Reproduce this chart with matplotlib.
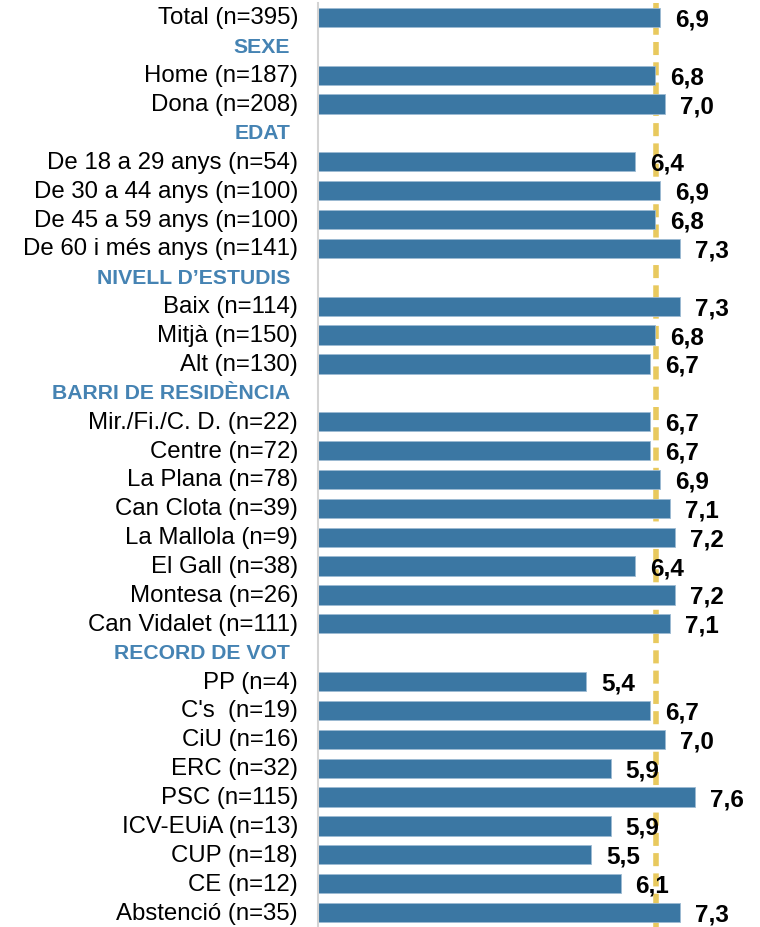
import matplotlib.pyplot as plt
from matplotlib.transforms import blended_transform_factory, offset_copy

# =========================
# Dades
# =========================
etiquetes = [
    "Total (n=395)", "SEXE", "Home (n=187)", "Dona (n=208)",
    "EDAT", "De 18 a 29 anys (n=54)", "De 30 a 44 anys (n=100)",
    "De 45 a 59 anys (n=100)", "De 60 i més anys (n=141)",
    "NIVELL D\u2019ESTUDIS", "Baix (n=114)", "Mitjà (n=150)", "Alt (n=130)",
    "BARRI DE RESIDÈNCIA", "Mir./Fi./C. D. (n=22)", "Centre (n=72)",
    "La Plana (n=78)", "Can Clota (n=39)", "La Mallola (n=9)",
    "El Gall (n=38)", "Montesa (n=26)", "Can Vidalet (n=111)",
    "RECORD DE VOT", "PP (n=4)", "C's  (n=19)", "CiU (n=16)", "ERC (n=32)",
    "PSC (n=115)", "ICV-EUiA (n=13)", "CUP (n=18)", "CE (n=12)",
    "Abstenció (n=35)",
]
# None = capçalera de grup
valors = [
    6.9, None, 6.8, 7.0,
    None, 6.4, 6.9, 6.8, 7.3,
    None, 7.3, 6.8, 6.7,
    None, 6.7, 6.7, 6.9, 7.1, 7.2, 6.4, 7.2, 7.1,
    None, 5.4, 6.7, 7.0, 5.9, 7.6, 5.9, 5.5, 6.1, 7.3,
]
mitjana = 6.82

color_barra = "#3B77A3"
color_cap = "#4583B3"
color_linia = "#E8C95E"
fonts = ['Liberation Sans', 'DejaVu Sans']

# =========================
# Gràfic
# =========================
fig = plt.figure(figsize=(7.6, 9.28), dpi=100)
ax = fig.add_axes([318 / 760, 0.0, 1 - 318 / 760, 924 / 928])

ax.axvline(mitjana, color=color_linia, lw=4, linestyle=(0, (2.35, 1.3)), zorder=1)

trans = blended_transform_factory(ax.transAxes, ax.transData)
trans_lab = offset_copy(trans, fig=fig, x=-20, y=0, units='dots')
trans_cap = offset_copy(trans, fig=fig, x=-28, y=0, units='dots')

for i, (nom, v) in enumerate(zip(etiquetes, valors)):
    if v is None:
        ax.text(0, i, nom, transform=trans_cap, ha='right', va='center',
                fontsize=15.2, fontweight='bold', color=color_cap, family=fonts)
        continue
    ax.barh(i, v, height=0.67, color=color_barra, edgecolor='#9dbad3',
            linewidth=0.6, zorder=2)
    ax.text(0, i, nom, transform=trans_lab, ha='right', va='center',
            fontsize=17.3, color='black', family=fonts)
    ax.annotate(f"{v:.1f}".replace('.', ','), (v, i), xytext=(15, -8),
                textcoords='offset pixels', ha='left', va='baseline',
                fontsize=17.5, fontweight='bold', zorder=3, family=fonts)

ax.set_xlim(0, 442 / 49.6)
ax.set_ylim(len(etiquetes) - 0.5, -0.5)
ax.set_xticks([])
ax.set_yticks([])
for s in ['top', 'right', 'bottom']:
    ax.spines[s].set_visible(False)
ax.spines['left'].set_color('#D3D3D3')
ax.spines['left'].set_linewidth(1.5)

plt.savefig("out.png", dpi=100)
